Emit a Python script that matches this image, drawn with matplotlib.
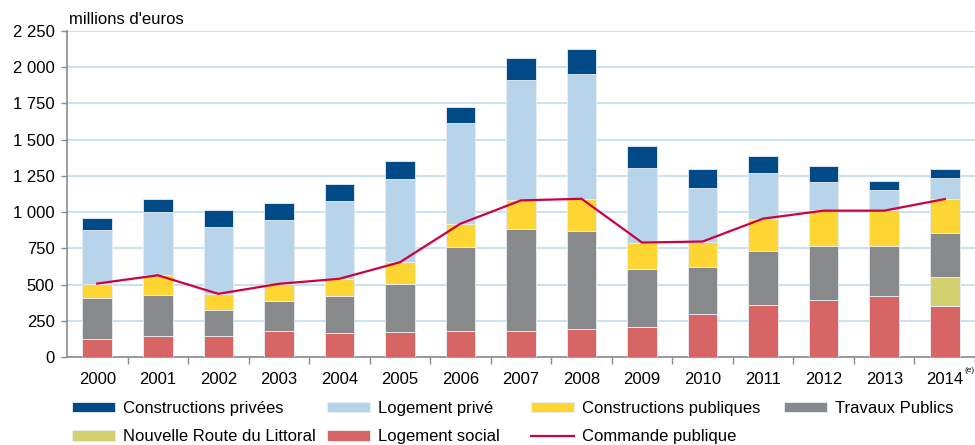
import numpy as np
import matplotlib.pyplot as plt
from matplotlib.ticker import FuncFormatter, MultipleLocator

plt.rcParams['font.family'] = ['Liberation Sans Narrow', 'Liberation Sans', 'DejaVu Sans']

# data (millions d'euros)
years = ['2000', '2001', '2002', '2003', '2004', '2005', '2006', '2007',
         '2008', '2009', '2010', '2011', '2012', '2013', '2014']
logement_social = [127, 142, 142, 182, 168, 175, 182, 182, 191, 207, 299, 356, 395, 423, 349]
nrl = [0, 0, 0, 0, 0, 0, 0, 0, 0, 0, 0, 0, 0, 0, 200]
travaux_publics = [279, 283, 182, 204, 252, 326, 574, 700, 677, 397, 319, 374, 374, 346, 310]
constr_publiques = [99, 138, 112, 121, 120, 153, 160, 199, 220, 184, 177, 225, 243, 243, 229]
logement_prive = [370, 438, 462, 439, 535, 572, 700, 829, 864, 516, 374, 317, 196, 141, 147]
constr_privees = [87, 90, 119, 119, 119, 127, 111, 152, 172, 152, 128, 112, 112, 64, 65]
commande_publique = [507, 564, 436, 505, 540, 654, 920, 1081, 1092, 790, 797, 955, 1010, 1010, 1090]

series = [
    ('Logement social', logement_social, '#d86565'),
    ('Nouvelle Route du Littoral', nrl, '#d3d16f'),
    ('Travaux Publics', travaux_publics, '#88898b'),
    ('Constructions publiques', constr_publiques, '#fed633'),
    ('Logement privé', logement_prive, '#b8d4eb'),
    ('Constructions privées', constr_privees, '#004b87'),
]

fig = plt.figure(figsize=(9.75, 4.45), dpi=100)
ax = fig.add_axes([67 / 975, 88 / 445, 908 / 975, 326 / 445])

x = np.arange(len(years))
bottom = np.zeros(len(years))
handles = {}
for name, vals, color in series:
    vals = np.array(vals, dtype=float)
    b = ax.bar(x, vals, 0.49, bottom=bottom, color=color, edgecolor='#e8eef4',
               linewidth=0.6, label=name, zorder=3)
    handles[name] = b
    bottom += vals

line, = ax.plot(x, commande_publique, color='#cf0040', linewidth=1.6,
                label='Commande publique', zorder=4)
handles['Commande publique'] = line

ax.set_ylim(0, 2250)
ax.set_xlim(-0.5, -0.5 + 908 / 60.85)
ax.yaxis.set_major_locator(MultipleLocator(250))
ax.yaxis.set_major_formatter(FuncFormatter(lambda v, p: f'{int(v):,}'.replace(',', ' ')))
ax.grid(axis='y', color='#bfdcef', linewidth=1.2, zorder=0)
ax.set_axisbelow(True)
for s in ['top', 'right']:
    ax.spines[s].set_visible(False)
for s in ['left', 'bottom']:
    ax.spines[s].set_color('#8c8c8c')
    ax.spines[s].set_linewidth(1.2)

ax.set_xticks(x)
ax.set_xticklabels(years)
ax.set_xticks(np.arange(len(years)) + 0.5, minor=True)
ax.tick_params(axis='x', which='major', length=0, pad=11, labelsize=12)
ax.tick_params(axis='x', which='minor', length=5, color='#8c8c8c', width=1)
ax.tick_params(axis='y', length=4, color='#8c8c8c', width=1, pad=5, labelsize=12)

ax.text(14.33, -95, '(e)', fontsize=6, ha='left', va='center')
fig.text(69 / 975, 1 - 20 / 445, "millions d'euros", fontsize=12, ha='left', va='center')

cols = [
    (72, ['Constructions privées', 'Nouvelle Route du Littoral']),
    (327, ['Logement privé', 'Logement social']),
    (531, ['Constructions publiques', 'Commande publique']),
    (784, ['Travaux Publics']),
]
for xpos, names in cols:
    fig.legend([handles[n] for n in names], names, loc='upper left',
               bbox_to_anchor=(xpos / 975, 1 - 401 / 445), frameon=False,
               fontsize=12, handlelength=2.6, handleheight=0.6, handletextpad=0.45,
               labelspacing=0.8, borderpad=0, borderaxespad=0)

fig.savefig('out.png', dpi=100)
